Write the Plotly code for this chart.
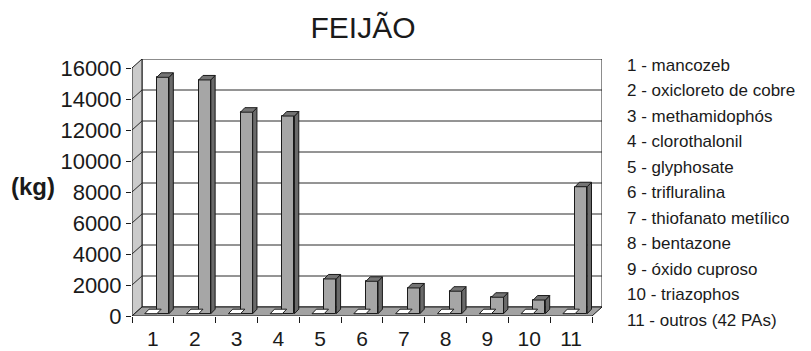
import plotly.graph_objects as go

# Active ingredients sold for bean crops (kg)
categories = list(range(1, 12))
tick_labels = [str(c) for c in categories]
quantities_kg = [15250, 15080, 13000, 12750, 2240, 2090, 1660, 1450, 1060, 880, 8190]
ingredient_names = [
    "mancozeb", "oxicloreto de cobre", "methamidophós", "clorothalonil",
    "glyphosate", "trifluralina", "thiofanato metílico", "bentazone",
    "óxido cuproso", "triazophos", "outros (42 PAs)",
]
y_ticks = list(range(0, 16001, 2000))

FONT = "Liberation Sans, Arial, Helvetica, sans-serif"

# pseudo-3D geometry in axis units
WALL_DX, WALL_DY = 0.239, 581      # depth of the chart box
BAR_DX, BAR_DY = 0.103, 290        # depth of each column
BAR_OFF, BAR_W = 0.095, 0.29       # column position inside its category
BASE = 150                          # front plane of the columns above the floor edge

x0, x1 = categories[0] - 0.5, categories[-1] + 0.5
ytop = y_ticks[-1]

fig = go.Figure()

# front faces of the columns
fig.add_trace(go.Bar(
    x=categories, y=quantities_kg, base=BASE, width=BAR_W, offset=BAR_OFF,
    marker=dict(color="#a6a6a6", line=dict(color="#1a1a1a", width=1)),
    hoverinfo="skip", showlegend=False,
))

def polys(builder):
    xs, ys = [], []
    for c, v in zip(categories, quantities_kg):
        px, py = builder(c, v)
        xs += px + [px[0], None]
        ys += py + [py[0], None]
    return xs, ys

# right side faces
sx, sy = polys(lambda c, v: (
    [c + BAR_OFF + BAR_W, c + BAR_OFF + BAR_W, c + BAR_OFF + BAR_W + BAR_DX, c + BAR_OFF + BAR_W + BAR_DX],
    [BASE, BASE + v, BASE + v + BAR_DY, BASE + BAR_DY]))
fig.add_trace(go.Scatter(x=sx, y=sy, mode="lines", fill="toself", fillcolor="#6a6a6a",
                         line=dict(color="#1a1a1a", width=1), hoverinfo="skip", showlegend=False))

# top faces
tx, ty = polys(lambda c, v: (
    [c + BAR_OFF, c + BAR_OFF + BAR_W, c + BAR_OFF + BAR_W + BAR_DX, c + BAR_OFF + BAR_DX],
    [BASE + v, BASE + v, BASE + v + BAR_DY, BASE + v + BAR_DY]))
fig.add_trace(go.Scatter(x=tx, y=ty, mode="lines", fill="toself", fillcolor="#747474",
                         line=dict(color="#1a1a1a", width=1), hoverinfo="skip", showlegend=False))

# flat zero-height companion columns lying on the floor
zx, zy = polys(lambda c, v: (
    [c + BAR_OFF - BAR_W, c + BAR_OFF, c + BAR_OFF + BAR_DX, c + BAR_OFF - BAR_W + BAR_DX],
    [BASE, BASE, BASE + BAR_DY, BASE + BAR_DY]))
fig.add_trace(go.Scatter(x=zx, y=zy, mode="lines", fill="toself", fillcolor="#ffffff",
                         line=dict(color="#1a1a1a", width=1), hoverinfo="skip", showlegend=False))

# chart box: back wall, side wall, gridlines, floor
shapes = []
shapes.append(dict(type="rect", xref="x", yref="y", layer="below",
                   x0=x0 + WALL_DX, x1=x1 + WALL_DX, y0=WALL_DY, y1=ytop + WALL_DY,
                   fillcolor="white", line=dict(color="#1a1a1a", width=1)))
shapes.append(dict(type="path", xref="x", yref="y", layer="below",
                   path=f"M{x0},0 L{x0},{ytop} L{x0 + WALL_DX},{ytop + WALL_DY} L{x0 + WALL_DX},{WALL_DY} Z",
                   fillcolor="#cbcbcb", line=dict(color="#1a1a1a", width=1)))
for t in y_ticks[1:-1]:
    shapes.append(dict(type="path", xref="x", yref="y", layer="below",
                       path=f"M{x0},{t} L{x0 + WALL_DX},{t + WALL_DY} L{x1 + WALL_DX},{t + WALL_DY}",
                       line=dict(color="#2a2a2a", width=1)))
shapes.append(dict(type="path", xref="x", yref="y", layer="below",
                   path=f"M{x0},0 L{x1},0 L{x1 + WALL_DX},{WALL_DY} L{x0 + WALL_DX},{WALL_DY} Z",
                   fillcolor="#a2a2a2", line=dict(color="#1a1a1a", width=1)))

# legend of active ingredients
annotations = []
for i, (c, name) in enumerate(zip(categories, ingredient_names)):
    annotations.append(dict(
        text=f"{c} - {name}", xref="paper", yref="paper",
        x=1.049, y=(316 - 65 - i * 25.5) / 257, xanchor="left", yanchor="middle",
        showarrow=False, font=dict(family=FONT, size=17, color="#1a1a1a"),
    ))
annotations.append(dict(
    text="<b>(kg)</b>", xref="paper", yref="paper", x=-0.21, y=0.502,
    xanchor="center", yanchor="middle", showarrow=False,
    font=dict(family=FONT, size=24, color="#1a1a1a"),
))

fig.update_layout(
    width=811, height=351,
    margin=dict(l=132, r=209, t=59, b=35),
    paper_bgcolor="white", plot_bgcolor="white",
    title=dict(text="FEIJÃO", x=0.4915, xref="paper", y=1 - 27 / 351, yanchor="middle",
               font=dict(family=FONT, size=30, color="#1a1a1a")),
    shapes=shapes, annotations=annotations,
    bargap=0, showlegend=False,
)
fig.update_xaxes(
    range=[x0, x1 + WALL_DX], tickvals=categories, ticktext=tick_labels,
    ticks="", showgrid=False, zeroline=False, showline=False, automargin=False,
    tickfont=dict(family=FONT, size=21, color="#1a1a1a"), ticklabelstandoff=8,
    minor=dict(tickvals=[c - 0.5 for c in categories] + [x1], ticks="outside",
               ticklen=6, tickcolor="#1a1a1a", showgrid=False),
    fixedrange=True,
)
fig.update_yaxes(
    range=[0, ytop + WALL_DY], tickvals=y_ticks, ticktext=[str(t) for t in y_ticks],
    ticks="outside", ticklen=5, tickcolor="#1a1a1a", showgrid=False, zeroline=False,
    showline=False, automargin=False, tickfont=dict(family=FONT, size=22, color="#1a1a1a"),
    fixedrange=True,
)

fig.write_html("out.html")
